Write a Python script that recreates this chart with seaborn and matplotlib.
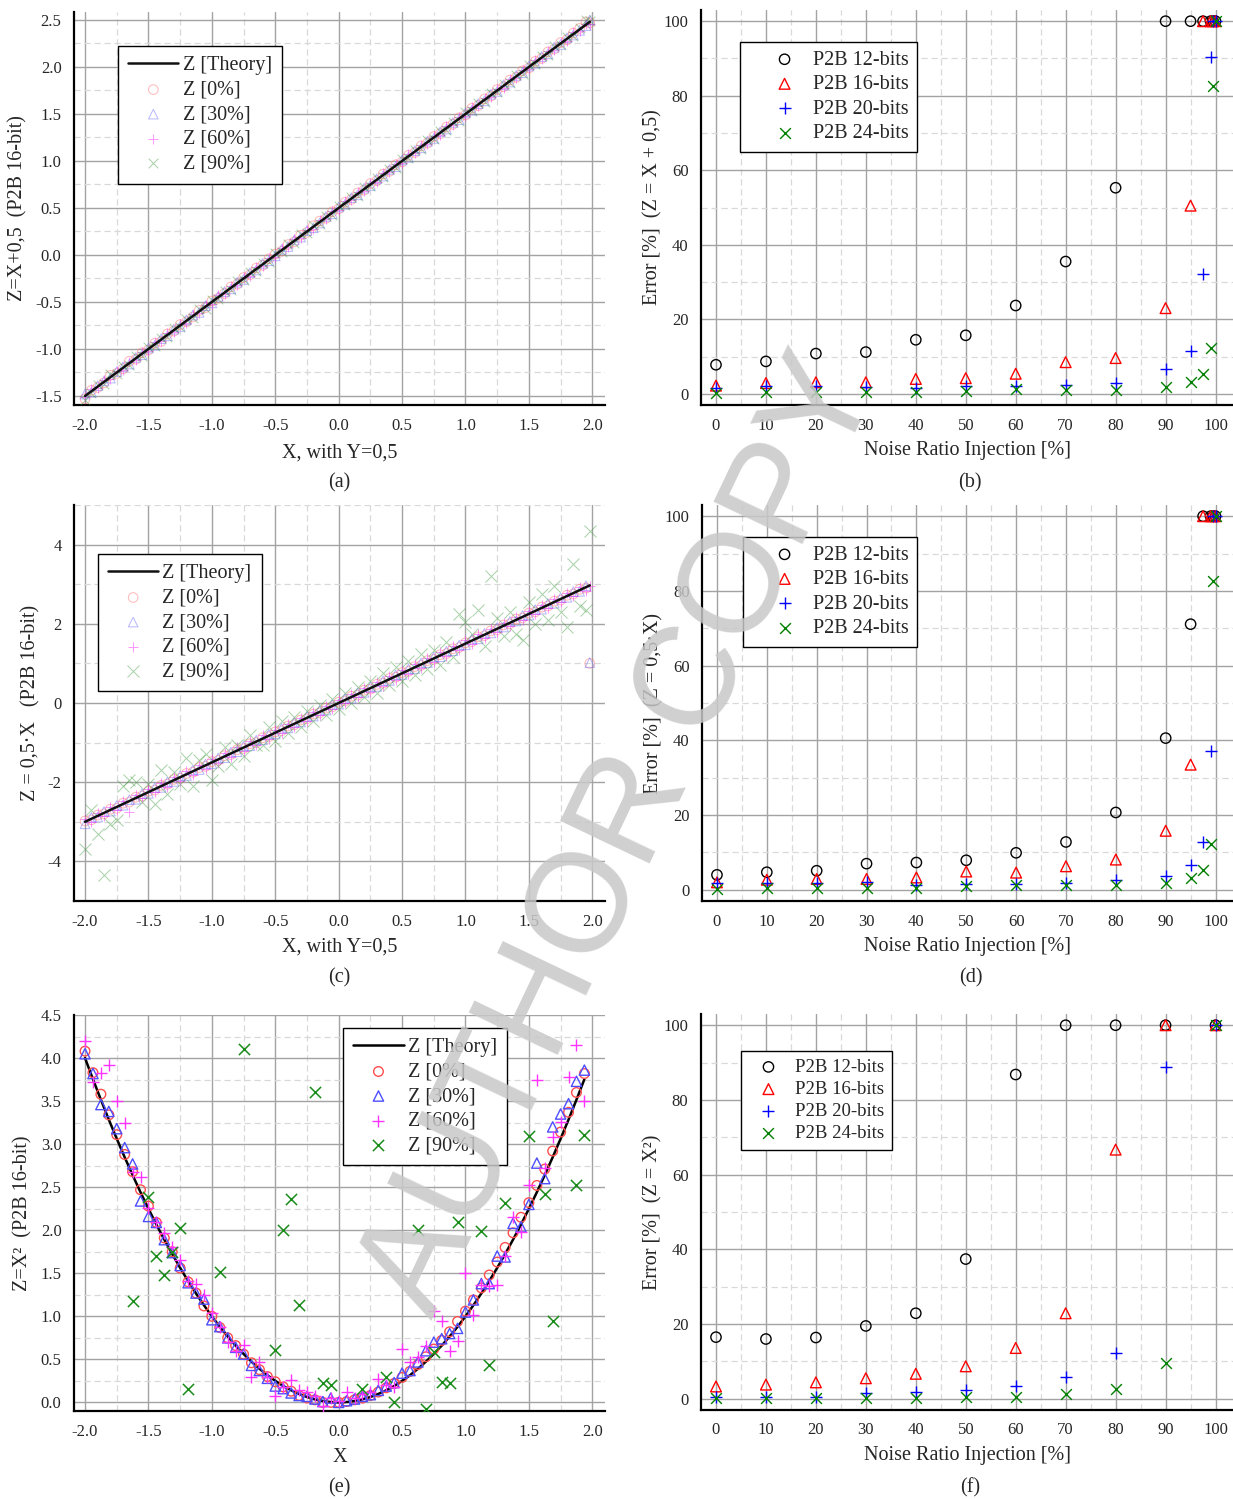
import matplotlib
matplotlib.use("Agg")
from matplotlib import pyplot as plt
from matplotlib.ticker import MultipleLocator
import seaborn as sns

sns.set_style("white")
plt.rcParams['font.family'] = ['Liberation Serif', 'DejaVu Serif']
plt.rcParams['axes.unicode_minus'] = False

# ---------------- data: panels (a) and (c) ----------------
x_lin = [-2.00, -1.95, -1.90, -1.85, -1.80, -1.75, -1.70, -1.65, -1.60, -1.55,
         -1.50, -1.45, -1.40, -1.35, -1.30, -1.25, -1.20, -1.15, -1.10, -1.05,
         -1.00, -0.95, -0.90, -0.85, -0.80, -0.75, -0.70, -0.65, -0.60, -0.55,
         -0.50, -0.45, -0.40, -0.35, -0.30, -0.25, -0.20, -0.15, -0.10, -0.05,
         0.00, 0.05, 0.10, 0.15, 0.20, 0.25, 0.30, 0.35, 0.40, 0.45,
         0.50, 0.55, 0.60, 0.65, 0.70, 0.75, 0.80, 0.85, 0.90, 0.95,
         1.00, 1.05, 1.10, 1.15, 1.20, 1.25, 1.30, 1.35, 1.40, 1.45,
         1.50, 1.55, 1.60, 1.65, 1.70, 1.75, 1.80, 1.85, 1.90, 1.95, 1.98]

theory_x_lin = [-2.0, 1.98]
theory_a = [-1.5, 2.48]
theory_c = [-3.0, 2.97]

a_0 = [-1.53, -1.44, -1.41, -1.36, -1.28, -1.26, -1.21, -1.13, -1.11, -1.04,
       -1.01, -0.94, -0.92, -0.84, -0.81, -0.74, -0.71, -0.66, -0.59, -0.56,
       -0.49, -0.46, -0.41, -0.34, -0.31, -0.24, -0.21, -0.14, -0.11, -0.04,
       0.01, 0.04, 0.11, 0.14, 0.21, 0.24, 0.31, 0.36, 0.39, 0.46,
       0.49, 0.56, 0.59, 0.66, 0.69, 0.76, 0.79, 0.86, 0.89, 0.96,
       0.99, 1.06, 1.09, 1.16, 1.19, 1.26, 1.29, 1.36, 1.39, 1.46,
       1.49, 1.56, 1.59, 1.66, 1.69, 1.76, 1.79, 1.86, 1.89, 1.96,
       1.99, 2.06, 2.09, 2.16, 2.19, 2.26, 2.29, 2.36, 2.41, 2.48, 2.47]
a_30 = [-1.48, -1.46, -1.39, -1.34, -1.31, -1.24, -1.19, -1.16, -1.09, -1.06,
        -0.99, -0.96, -0.89, -0.86, -0.79, -0.76, -0.69, -0.64, -0.61, -0.54,
        -0.51, -0.44, -0.39, -0.36, -0.29, -0.26, -0.19, -0.16, -0.09, -0.06,
        -0.01, 0.06, 0.09, 0.16, 0.19, 0.26, 0.29, 0.34, 0.41, 0.44,
        0.51, 0.54, 0.61, 0.64, 0.71, 0.74, 0.81, 0.84, 0.91, 0.94,
        1.01, 1.04, 1.11, 1.14, 1.21, 1.24, 1.31, 1.34, 1.41, 1.44,
        1.51, 1.54, 1.61, 1.64, 1.71, 1.74, 1.81, 1.84, 1.91, 1.94,
        2.01, 2.04, 2.11, 2.14, 2.21, 2.24, 2.31, 2.34, 2.39, 2.44, 2.50]
a_60 = [-1.51, -1.43, -1.42, -1.33, -1.32, -1.23, -1.22, -1.14, -1.12, -1.03,
        -1.02, -0.93, -0.91, -0.83, -0.82, -0.73, -0.72, -0.63, -0.62, -0.53,
        -0.52, -0.43, -0.42, -0.33, -0.32, -0.23, -0.22, -0.13, -0.12, -0.03,
        -0.02, 0.07, 0.08, 0.17, 0.18, 0.27, 0.28, 0.37, 0.38, 0.47,
        0.48, 0.57, 0.58, 0.67, 0.68, 0.77, 0.78, 0.87, 0.88, 0.97,
        0.98, 1.07, 1.08, 1.17, 1.18, 1.27, 1.28, 1.37, 1.38, 1.47,
        1.48, 1.57, 1.58, 1.67, 1.68, 1.77, 1.78, 1.87, 1.88, 1.97,
        1.98, 2.07, 2.08, 2.17, 2.18, 2.27, 2.28, 2.37, 2.38, 2.46, 2.46]
a_90 = [-1.54, -1.47, -1.38, -1.37, -1.27, -1.27, -1.18, -1.17, -1.08, -1.07,
        -0.98, -0.97, -0.88, -0.87, -0.78, -0.77, -0.68, -0.67, -0.58, -0.57,
        -0.48, -0.47, -0.38, -0.37, -0.28, -0.27, -0.18, -0.17, -0.08, -0.07,
        0.02, 0.03, 0.12, 0.13, 0.22, 0.23, 0.32, 0.33, 0.42, 0.43,
        0.52, 0.53, 0.62, 0.63, 0.72, 0.73, 0.82, 0.83, 0.92, 0.93,
        1.02, 1.03, 1.12, 1.13, 1.22, 1.23, 1.32, 1.33, 1.42, 1.43,
        1.52, 1.53, 1.62, 1.63, 1.72, 1.73, 1.82, 1.83, 1.92, 1.93,
        2.02, 2.03, 2.12, 2.13, 2.22, 2.23, 2.32, 2.33, 2.42, 2.50, 2.49]

c_0 = [-2.98, -2.95, -2.83, -2.80, -2.68, -2.66, -2.53, -2.50, -2.38, -2.35,
       -2.23, -2.20, -2.08, -2.05, -1.93, -1.90, -1.78, -1.75, -1.63, -1.60,
       -1.48, -1.45, -1.33, -1.30, -1.18, -1.15, -1.03, -1.00, -0.88, -0.85,
       -0.73, -0.70, -0.58, -0.55, -0.43, -0.40, -0.28, -0.25, -0.13, -0.10,
       0.02, 0.05, 0.17, 0.20, 0.32, 0.35, 0.47, 0.50, 0.62, 0.65,
       0.77, 0.80, 0.92, 0.95, 1.07, 1.10, 1.22, 1.25, 1.37, 1.40,
       1.52, 1.55, 1.67, 1.70, 1.82, 1.85, 1.97, 2.00, 2.12, 2.15,
       2.27, 2.30, 2.42, 2.45, 2.57, 2.60, 2.72, 2.75, 2.87, 2.90, 1.00]
c_30 = [-3.05, -2.89, -2.88, -2.74, -2.73, -2.59, -2.58, -2.44, -2.43, -2.29,
        -2.28, -2.14, -2.13, -1.99, -1.98, -1.84, -1.83, -1.69, -1.68, -1.54,
        -1.53, -1.39, -1.38, -1.24, -1.23, -1.09, -1.08, -0.94, -0.93, -0.79,
        -0.78, -0.64, -0.63, -0.49, -0.48, -0.34, -0.33, -0.19, -0.18, -0.04,
        -0.03, 0.11, 0.12, 0.26, 0.27, 0.41, 0.42, 0.56, 0.57, 0.71,
        0.72, 0.86, 0.87, 1.01, 1.02, 1.16, 1.17, 1.31, 1.32, 1.46,
        1.47, 1.61, 1.62, 1.76, 1.77, 1.91, 1.92, 2.06, 2.07, 2.21,
        2.22, 2.36, 2.37, 2.51, 2.52, 2.66, 2.67, 2.81, 2.82, 2.96, 1.02]
c_60 = [-2.94, -3.00, -2.78, -2.86, -2.62, -2.71, -2.47, -2.75, -2.32, -2.41,
        -2.17, -2.26, -2.02, -2.11, -1.87, -1.96, -1.72, -1.81, -1.57, -1.66,
        -1.42, -1.51, -1.27, -1.36, -1.12, -1.21, -0.97, -1.06, -0.82, -0.91,
        -0.67, -0.76, -0.52, -0.61, -0.37, -0.46, -0.22, -0.31, -0.07, -0.16,
        0.08, -0.01, 0.23, 0.14, 0.38, 0.29, 0.53, 0.44, 0.68, 0.59,
        0.83, 0.74, 0.98, 0.89, 1.13, 1.04, 1.28, 1.19, 1.43, 1.34,
        1.58, 1.49, 1.73, 1.64, 1.88, 1.79, 2.03, 1.94, 2.18, 2.09,
        2.33, 2.24, 2.48, 2.39, 2.63, 2.54, 2.78, 2.69, 2.93, 2.84, 2.95]
c_90 = [-3.68, -2.70, -3.30, -4.34, -3.05, -2.95, -2.10, -1.95, -2.00, -2.50,
        -2.05, -2.55, -1.70, -2.30, -1.75, -2.05, -1.40, -2.10, -1.45, -1.30,
        -1.95, -1.60, -1.10, -1.55, -1.05, -1.35, -0.80, -1.05, -1.05, -0.60,
        -0.95, -0.45, -0.75, -0.35, -0.60, -0.20, -0.45, -0.05, -0.30, 0.10,
        -0.15, 0.25, 0.00, 0.40, 0.15, 0.55, 0.25, 0.75, 0.45, 0.90,
        0.55, 1.05, 0.70, 1.25, 0.85, 1.35, 0.95, 1.55, 1.15, 2.25,
        2.05, 1.75, 2.35, 1.45, 3.20, 2.15, 1.70, 2.30, 1.75, 1.60,
        2.55, 2.00, 2.75, 2.10, 2.95, 2.30, 1.93, 3.52, 2.45, 2.35, 4.35]

# ---------------- data: panel (e) ----------------
x_sq = [-2.0, -1.9375, -1.875, -1.8125, -1.75, -1.6875, -1.625, -1.5625,
        -1.5, -1.4375, -1.375, -1.3125, -1.25, -1.1875, -1.125, -1.0625,
        -1.0, -0.9375, -0.875, -0.8125, -0.75, -0.6875, -0.625, -0.5625,
        -0.5, -0.4375, -0.375, -0.3125, -0.25, -0.1875, -0.125, -0.0625,
        0.0, 0.0625, 0.125, 0.1875, 0.25, 0.3125, 0.375, 0.4375,
        0.5, 0.5625, 0.625, 0.6875, 0.75, 0.8125, 0.875, 0.9375,
        1.0, 1.0625, 1.125, 1.1875, 1.25, 1.3125, 1.375, 1.4375,
        1.5, 1.5625, 1.625, 1.6875, 1.75, 1.8125, 1.875, 1.9375]
theory_e = [4.000, 3.754, 3.516, 3.285, 3.063, 2.848, 2.641, 2.441,
            2.250, 2.066, 1.891, 1.723, 1.563, 1.410, 1.266, 1.129,
            1.000, 0.879, 0.766, 0.660, 0.563, 0.473, 0.391, 0.316,
            0.250, 0.191, 0.141, 0.098, 0.063, 0.035, 0.016, 0.004,
            0.000, 0.004, 0.016, 0.035, 0.063, 0.098, 0.141, 0.191,
            0.250, 0.316, 0.391, 0.473, 0.563, 0.660, 0.766, 0.879,
            1.000, 1.129, 1.266, 1.410, 1.563, 1.723, 1.891, 2.066,
            2.250, 2.441, 2.641, 2.848, 3.063, 3.285, 3.516, 3.754]
e_0 = [4.08, 3.83, 3.58, 3.34, 3.11, 2.88, 2.68, 2.47,
       2.28, 2.09, 1.91, 1.75, 1.56, 1.40, 1.27, 1.12,
       1.00, 0.87, 0.75, 0.66, 0.56, 0.46, 0.38, 0.30,
       0.24, 0.18, 0.13, 0.08, 0.05, 0.03, 0.00, 0.00,
       0.00, 0.01, 0.03, 0.05, 0.08, 0.12, 0.17, 0.22,
       0.29, 0.36, 0.44, 0.53, 0.62, 0.72, 0.82, 0.94,
       1.06, 1.19, 1.33, 1.48, 1.63, 1.80, 1.97, 2.15,
       2.32, 2.52, 2.71, 2.92, 3.14, 3.37, 3.60, 3.82]
e_30 = [4.05, 3.82, 3.46, 3.38, 3.18, 2.96, 2.77, 2.34,
        2.16, 2.09, 1.89, 1.74, 1.59, 1.39, 1.27, 1.20,
        0.96, 0.88, 0.75, 0.64, 0.56, 0.43, 0.37, 0.28,
        0.19, 0.16, 0.11, 0.08, 0.07, 0.04, 0.01, 0.05,
        0.00, 0.02, 0.04, 0.07, 0.09, 0.14, 0.19, 0.23,
        0.34, 0.37, 0.47, 0.60, 0.70, 0.74, 0.80, 0.86,
        1.05, 1.19, 1.38, 1.38, 1.70, 1.69, 2.08, 2.04,
        2.30, 2.78, 2.60, 3.20, 3.35, 3.47, 3.73, 3.86]
e_60 = [4.20, 3.72, 3.83, 3.92, 3.50, 3.24, 2.68, 2.62,
        2.26, 2.10, 1.97, 1.80, 1.65, 1.41, 1.38, 1.25,
        1.04, 0.88, 0.70, 0.60, 0.67, 0.30, 0.47, 0.30,
        0.08, 0.18, 0.26, 0.14, 0.12, 0.07, -0.04, 0.05,
        0.02, 0.12, 0.05, 0.10, 0.12, 0.27, 0.20, 0.18,
        0.62, 0.47, 0.53, 0.66, 1.06, 0.94, 0.60, 0.71,
        1.50, 1.02, 1.36, 1.35, 1.36, 1.70, 2.15, 1.98,
        2.52, 3.74, 2.72, 3.08, 3.26, 3.78, 4.15, 3.50]
e90_x = [-1.625, -1.5, -1.4375, -1.375, -1.3125, -1.25, -1.1875, -0.9375,
         -0.75, -0.5, -0.4375, -0.375, -0.3125, -0.1875, -0.125, -0.0625,
         0.1875, 0.375, 0.4375, 0.625, 0.6875, 0.75, 0.8125, 0.875,
         0.9375, 1.125, 1.1875, 1.3125, 1.5, 1.625, 1.6875, 1.875, 1.9375]
e90_z = [1.18, 2.39, 1.70, 1.48, 1.75, 2.03, 0.15, 1.52,
         4.11, 0.61, 2.00, 2.36, 1.13, 3.60, 0.22, 0.20,
         0.16, 0.29, 0.01, 2.00, -0.08, 0.58, 0.24, 0.23,
         2.10, 1.99, 0.43, 2.32, 3.09, 2.42, 0.95, 2.53, 3.11]

# ---------------- data: error panels (b), (d), (f) ----------------
noise_bd = [0, 10, 20, 30, 40, 50, 60, 70, 80, 90, 95, 97.5, 99, 99.5, 100]
b_12 = [7.8, 8.7, 10.8, 11.2, 14.5, 15.7, 23.7, 35.5, 55.3, 100, 100, 100, 100, 100, 100]
b_16 = [2.2, 2.9, 3.1, 3.1, 4.0, 4.2, 5.4, 8.5, 9.6, 23.0, 50.5, 100, 100, 100, 100]
b_20 = [1.6, 2.0, 2.0, 1.9, 1.6, 2.0, 2.0, 2.5, 2.9, 6.7, 11.4, 32.1, 90.4, 100, 100]
b_24 = [0.3, 0.4, 0.4, 0.4, 0.4, 0.7, 1.2, 1.0, 1.0, 1.8, 3.1, 5.4, 12.3, 82.6, 100]

d_12 = [4.0, 4.7, 5.1, 7.0, 7.3, 7.9, 9.9, 12.8, 20.7, 40.6, 71.1, 100, 100, 100, 100]
d_16 = [2.0, 2.7, 2.9, 2.9, 3.3, 4.9, 4.6, 6.3, 8.1, 15.8, 33.5, 100, 100, 100, 100]
d_20 = [1.8, 1.8, 1.8, 2.2, 1.3, 1.5, 1.5, 1.8, 2.5, 3.7, 6.7, 12.9, 37.2, 100, 100]
d_24 = [0.3, 0.4, 0.4, 0.4, 0.6, 0.9, 1.2, 1.2, 1.2, 1.7, 3.1, 5.2, 12.3, 82.7, 100]

noise_f = [0, 10, 20, 30, 40, 50, 60, 70, 80, 90, 100]
f_12 = [16.5, 16.0, 16.4, 19.5, 22.9, 37.4, 86.8, 100, 100, 100, 100]
f_16 = [3.3, 3.8, 4.4, 5.5, 6.7, 8.7, 13.6, 22.9, 66.7, 100, 100]
f_20 = [0.6, 0.4, 0.6, 1.5, 1.7, 2.4, 3.3, 5.8, 12.2, 88.8, 100]
f_24 = [0.2, 0.2, 0.2, 0.2, 0.2, 0.4, 0.6, 1.3, 2.7, 9.7, 100]

W, H = 1233, 1499
fig = plt.figure(figsize=(W / 100, H / 100), dpi=100)


def add_ax(left, top, right, bottom):
    return fig.add_axes([left / W, 1 - bottom / H, (right - left) / W, (bottom - top) / H])


def style_axes(ax, xmaj, xmin, ymaj, ymin):
    ax.xaxis.set_major_locator(MultipleLocator(xmaj))
    ax.xaxis.set_minor_locator(MultipleLocator(xmin))
    ax.yaxis.set_major_locator(MultipleLocator(ymaj))
    ax.yaxis.set_minor_locator(MultipleLocator(ymin))
    ax.grid(which='major', color='#a3a3a3', lw=1.0, ls='-')
    ax.grid(which='minor', color='#d9d9d9', lw=0.9, ls=(0, (5, 3)))
    ax.set_axisbelow(True)
    for s in ['top', 'right']:
        ax.spines[s].set_visible(False)
    for s in ['left', 'bottom']:
        ax.spines[s].set_linewidth(1.6)
        ax.spines[s].set_color('black')
    ax.tick_params(which='major', direction='out', length=6, width=1.2,
                   labelsize=12, color='black', pad=3)
    ax.tick_params(which='minor', direction='out', length=3.5, width=1.0, color='black')


def add_legend(ax, order, anchor, fs=14.5, hl=2.5, tp=0.2, bp=0.5):
    h, l = ax.get_legend_handles_labels()
    d = dict(zip(l, h))
    leg = ax.legend([d[k] for k in order], order, loc='upper left',
                    bbox_to_anchor=anchor, borderaxespad=0, frameon=True,
                    fancybox=False, edgecolor='black', framealpha=1,
                    fontsize=fs, handlelength=hl, handletextpad=tp,
                    labelspacing=0.27, borderpad=bp)
    leg.get_frame().set_linewidth(1.0)
    leg.set_zorder(20)


def noise_series(ax, x, z, marker, color, s, lw, alpha, label, hollow):
    kw = dict(x=x, y=z, ax=ax, marker=marker, s=s, linewidth=lw, alpha=alpha,
              label=label, legend=False, zorder=3)
    if hollow:
        sns.scatterplot(facecolors='none', edgecolor=color, **kw)
    else:
        sns.scatterplot(color=color, **kw)


def labels(ax, xl, yl, ylx, xly):
    ax.set_xlabel(xl, fontsize=14.5)
    ax.set_ylabel(yl, fontsize=14.5)
    ax.yaxis.set_label_coords(ylx, 0.5)
    ax.xaxis.set_label_coords(0.5, xly)


z_labels = ['Z [Theory]', 'Z [0%]', 'Z [30%]', 'Z [60%]', 'Z [90%]']
p_labels = ['P2B 12-bits', 'P2B 16-bits', 'P2B 20-bits', 'P2B 24-bits']

# ---------------- (a) ----------------
ax = add_ax(74, 12, 605, 405)
style_axes(ax, 0.5, 0.25, 0.5, 0.25)
noise_series(ax, x_lin, a_0, 'o', '#ff6e6e', 48, 0.7, 0.5, 'Z [0%]', True)
noise_series(ax, x_lin, a_30, '^', '#6e6eff', 48, 0.7, 0.5, 'Z [30%]', True)
noise_series(ax, x_lin, a_60, '+', '#ff30ff', 60, 0.7, 0.5, 'Z [60%]', False)
noise_series(ax, x_lin, a_90, 'x', '#3c9a3c', 48, 0.7, 0.45, 'Z [90%]', False)
sns.lineplot(x=theory_x_lin, y=theory_a, ax=ax, color='#111111', lw=1.8,
             label='Z [Theory]', legend=False, zorder=5)
ax.set_xlim(-2.087, 2.10)
ax.set_ylim(-1.596, 2.585)
labels(ax, 'X, with Y=0,5', 'Z=X+0,5  (P2B 16-bit)', -0.087, -0.097)
add_legend(ax, z_labels, (0.083, 0.913))

# ---------------- (c) ----------------
ax = add_ax(74, 505, 605, 901)
style_axes(ax, 0.5, 0.25, 2, 1)
noise_series(ax, x_lin, c_0, 'o', '#ff6e6e', 48, 0.7, 0.5, 'Z [0%]', True)
noise_series(ax, x_lin, c_30, '^', '#6e6eff', 48, 0.7, 0.5, 'Z [30%]', True)
noise_series(ax, x_lin, c_60, '+', '#ff30ff', 60, 0.7, 0.5, 'Z [60%]', False)
noise_series(ax, x_lin, c_90, 'x', '#3c9a3c', 75, 0.7, 0.45, 'Z [90%]', False)
sns.lineplot(x=theory_x_lin, y=theory_c, ax=ax, color='#111111', lw=1.8,
             label='Z [Theory]', legend=False, zorder=5)
ax.set_xlim(-2.087, 2.10)
ax.set_ylim(-5, 5)
labels(ax, 'X, with Y=0,5', 'Z = 0,5·X   (P2B 16-bit)', -0.064, -0.093)
add_legend(ax, z_labels, (0.045, 0.876))

# ---------------- (e) ----------------
ax = add_ax(74, 1015, 605, 1411)
style_axes(ax, 0.5, 0.25, 0.5, 0.25)
sns.lineplot(x=x_sq, y=theory_e, ax=ax, color='black', lw=1.8,
             label='Z [Theory]', legend=False, zorder=2.5)
noise_series(ax, x_sq, e_0, 'o', '#ff4d4d', 48, 1.0, 1, 'Z [0%]', True)
noise_series(ax, x_sq, e_30, '^', '#4d4dff', 55, 1.0, 1, 'Z [30%]', True)
noise_series(ax, x_sq, e_60, '+', '#ff33ff', 65, 1.0, 1, 'Z [60%]', False)
noise_series(ax, e90_x, e90_z, 'x', '#1a8c1a', 65, 1.1, 1, 'Z [90%]', False)
ax.set_xlim(-2.087, 2.10)
ax.set_ylim(-0.1, 4.5)
labels(ax, 'X', 'Z=X²  (P2B 16-bit)', -0.079, -0.093)
add_legend(ax, z_labels, (0.507, 0.967))


# ---------------- error panels ----------------
def error_panel(rect, noise, s12, s16, s20, s24, ylab, anchor, fs, hl, tp):
    ax = add_ax(*rect)
    style_axes(ax, 10, 5, 20, 10)
    noise_series(ax, noise, s12, 'o', 'black', 55, 1.0, 1, 'P2B 12-bits', True)
    noise_series(ax, noise, s16, '^', '#ff0000', 60, 1.0, 1, 'P2B 16-bits', True)
    noise_series(ax, noise, s20, '+', '#0000ff', 70, 1.0, 1, 'P2B 20-bits', False)
    noise_series(ax, noise, s24, 'x', '#008000', 60, 1.0, 1, 'P2B 24-bits', False)
    ax.set_xlim(-3, 103.5)
    ax.set_ylim(-3, 103)
    labels(ax, 'Noise Ratio Injection [%]', ylab, -0.073, -0.092)
    add_legend(ax, p_labels, anchor, fs=fs, hl=hl, tp=tp, bp=0.42)
    return ax


error_panel((701, 10, 1233, 405), noise_bd, b_12, b_16, b_20, b_24,
            'Error [%]  (Z = X + 0,5)', (0.073, 0.919), 14.5, 3.6, -0.4)
error_panel((702, 505, 1233, 901), noise_bd, d_12, d_16, d_20, d_24,
            'Error [%]  (Z = 0,5·X)', (0.077, 0.919), 14.5, 3.3, -0.25)
error_panel((701, 1014, 1233, 1410), noise_f, f_12, f_16, f_20, f_24,
            'Error [%]  (Z = X²)', (0.075, 0.907), 13.5, 2.1, 0.34)

# captions
for txt, cx, cy in [('(a)', 339, 483), ('(b)', 970, 483), ('(c)', 339, 978),
                    ('(d)', 971, 978), ('(e)', 339, 1488), ('(f)', 970, 1488)]:
    fig.text(cx / W, 1 - cy / H, txt, fontsize=14.5, ha='center', va='center')

# watermark
fig.text(0.505, 0.442, 'AUTHOR COPY', fontsize=102, family='Liberation Sans',
         color='#c8c8c8', alpha=0.85, rotation=64.5,
         ha='center', va='center', rotation_mode='anchor', zorder=30)

plt.savefig('out.png', dpi=100)
